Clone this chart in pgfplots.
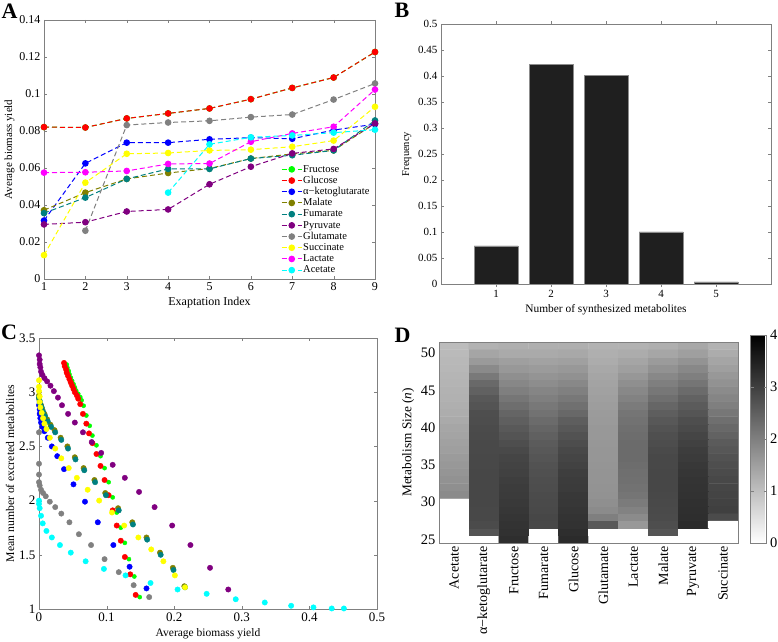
\documentclass[border=0pt]{standalone}
\usepackage{fontspec}
\setmainfont{Liberation Serif}
\usepackage{pgfplots}
\pgfplotsset{compat=1.18}
\definecolor{cFru}{rgb}{0,1,0}
\definecolor{cGlc}{rgb}{1,0,0}
\definecolor{cAkg}{rgb}{0,0,1}
\definecolor{cMal}{rgb}{0.5,0.5,0}
\definecolor{cFum}{rgb}{0,0.5,0.5}
\definecolor{cPyr}{rgb}{0.5,0,0.5}
\definecolor{cGlu}{rgb}{0.5,0.5,0.5}
\definecolor{cSuc}{rgb}{1,1,0}
\definecolor{cLac}{rgb}{1,0,1}
\definecolor{cAce}{rgb}{0,1,1}
\pgfplotsset{
  mstyle/.style={scale only axis, anchor=south west,
    axis line style={draw=black!50}, tick align=inside, major tick length=3pt,
    tick style={draw=black!50},
    ticklabel style={font=\fontsize{12}{12}\selectfont},
    /pgf/number format/assume math mode=true, scaled ticks=false,
    /pgf/number format/fixed, /pgf/number format/precision=2},
  aline/.style={#1, dash pattern=on 5pt off 3pt, line width=1pt, mark=*, mark size=2.8pt, mark options={solid, fill=#1, draw=#1}},
  cdot/.style={only marks, mark=*, mark size=2.7pt, color=#1, mark options={fill=#1, draw=#1}},
}
\begin{document}
\begin{tikzpicture}
\path[use as bounding box] (0,0) rectangle (778pt,641pt);
% ---------- Panel A ----------
\begin{axis}[mstyle, at={(44pt,362pt)}, width=331pt, height=259pt,
  xmin=1, xmax=9, ymin=0, ymax=0.14,
  xtick={1,2,3,4,5,6,7,8,9}, ytick={0,0.02,0.04,0.06,0.08,0.1,0.12,0.14},
  xlabel={Exaptation Index}, ylabel={Average biomass yield},
  xlabel style={font=\fontsize{12}{12}\selectfont},
  ylabel style={font=\fontsize{11}{11}\selectfont}, ylabel shift=-2pt,
  legend style={at={(0.995,0.004)}, anchor=south east, draw=none, fill=none,
    font=\fontsize{10.5}{10.5}\selectfont, row sep=0pt,
    nodes={inner sep=0.7pt, text height=7.6pt, text depth=2.2pt}},
  legend image code/.code={\draw[mark repeat=2,mark phase=2] plot coordinates {(0cm,0cm)(0.36cm,0cm)(0.72cm,0cm)};},
  legend cell align=left]
\addplot[aline=cFru] coordinates {(1,0.0821)(2,0.0819)(3,0.0868)(4,0.0895)(5,0.0922)(6,0.0972)(7,0.1033)(8,0.1089)(9,0.1227)};
\addlegendentry{Fructose}
\addplot[aline=cGlc] coordinates {(1,0.0821)(2,0.0819)(3,0.0868)(4,0.0895)(5,0.0922)(6,0.0972)(7,0.1033)(8,0.1089)(9,0.1227)};
\addlegendentry{Glucose}
\addplot[aline=cAkg] coordinates {(1,0.0316)(2,0.0625)(3,0.0737)(4,0.0737)(5,0.0755)(6,0.0764)(7,0.0758)(8,0.0805)(9,0.0837)};
\addlegendentry{α−ketoglutarate}
\addplot[aline=cMal] coordinates {(1,0.0372)(2,0.0467)(3,0.0541)(4,0.0573)(5,0.0597)(6,0.0651)(7,0.0676)(8,0.0695)(9,0.0841)};
\addlegendentry{Malate}
\addplot[aline=cFum] coordinates {(1,0.0356)(2,0.0440)(3,0.0541)(4,0.0595)(5,0.0595)(6,0.0651)(7,0.0669)(8,0.0695)(9,0.0857)};
\addlegendentry{Fumarate}
\addplot[aline=cPyr] coordinates {(1,0.0295)(2,0.0307)(3,0.0365)(4,0.0376)(5,0.0512)(6,0.0607)(7,0.0679)(8,0.0703)(9,0.0841)};
\addlegendentry{Pyruvate}
\addplot[aline=cGlu] coordinates {(2,0.0261)(3,0.0832)(4,0.0846)(5,0.0855)(6,0.0875)(7,0.0889)(8,0.0970)(9,0.1057)};
\addlegendentry{Glutamate}
\addplot[aline=cSuc] coordinates {(1,0.0129)(2,0.0521)(3,0.0677)(4,0.0681)(5,0.0695)(6,0.0699)(7,0.0715)(8,0.0748)(9,0.0931)};
\addlegendentry{Succinate}
\addplot[aline=cLac] coordinates {(1,0.0575)(2,0.0577)(3,0.0584)(4,0.0622)(5,0.0624)(6,0.0742)(7,0.0787)(8,0.0823)(9,0.1024)};
\addlegendentry{Lactate}
\addplot[aline=cAce] coordinates {(4,0.0467)(5,0.0728)(6,0.0766)(7,0.0776)(8,0.0791)(9,0.0807)};
\addlegendentry{Acetate}
\end{axis}
% ---------- Panel B ----------
\begin{axis}[mstyle, at={(441pt,357pt)}, width=330pt, height=260pt,
  xmin=0, xmax=6, ymin=0, ymax=0.5,
  xtick={1,2,3,4,5}, ytick={0,0.05,0.1,0.15,0.2,0.25,0.3,0.35,0.4,0.45,0.5},
  ticklabel style={font=\fontsize{11}{11}\selectfont},
  ybar, bar width=0.8,
  xlabel={Number of synthesized metabolites}, ylabel={Frequency},
  xlabel style={font=\fontsize{11.4}{11.4}\selectfont},
  ylabel style={font=\fontsize{10.5}{10.5}\selectfont}]
\addplot[fill=black!88, draw=black!45] coordinates {(1,0.0732)(2,0.4223)(3,0.4012)(4,0.1001)(5,0.0039)};
\end{axis}
% ---------- Panel C ----------
\begin{axis}[mstyle, at={(39pt,32pt)}, width=338pt, height=271pt,
  xmin=0, xmax=0.5, ymin=1, ymax=3.5, clip=false,
  xtick={0,0.1,0.2,0.3,0.4,0.5}, ytick={1,1.5,2,2.5,3,3.5},
  ticklabel style={font=\fontsize{13}{13}\selectfont},
  xlabel={Average biomass yield}, ylabel={Mean number of excreted metabolites},
  xlabel style={font=\fontsize{11.5}{11.5}\selectfont},
  ylabel style={font=\fontsize{11.7}{11.7}\selectfont}, ylabel shift=-2pt]
\addplot[cdot=cFru, mark size=2.1pt] coordinates {(0.041,3.255)(0.042,3.225)(0.044,3.195)(0.045,3.165)(0.047,3.135)(0.049,3.105)(0.051,3.075)(0.053,3.045)(0.055,3.015)(0.058,2.985)(0.061,2.955)(0.063,2.925)(0.066,2.875)(0.070,2.785)(0.075,2.69)(0.079,2.60)(0.085,2.51)(0.091,2.41)(0.097,2.30)(0.103,2.17)(0.109,2.03)(0.115,1.89)(0.121,1.75)(0.127,1.61)(0.133,1.46)(0.141,1.30)(0.149,1.11)};
\addplot[cdot=cGlc] coordinates {(0.037,3.27)(0.038,3.24)(0.040,3.21)(0.041,3.18)(0.043,3.15)(0.045,3.12)(0.047,3.09)(0.049,3.06)(0.051,3.03)(0.053,3.00)(0.056,2.97)(0.058,2.94)(0.061,2.89)(0.065,2.80)(0.070,2.71)(0.074,2.62)(0.079,2.53)(0.085,2.43)(0.091,2.32)(0.097,2.19)(0.103,2.05)(0.109,1.91)(0.115,1.77)(0.121,1.63)(0.127,1.48)(0.135,1.32)(0.143,1.13)};
\addplot[cdot=cAkg] coordinates {(0.000,2.88)(0.001,2.84)(0.001,2.80)(0.002,2.76)(0.003,2.72)(0.005,2.68)(0.008,2.64)(0.013,2.58)(0.019,2.50)(0.027,2.41)(0.037,2.29)(0.051,2.15)(0.068,1.99)(0.087,1.80)(0.110,1.59)(0.134,1.39)(0.159,1.19)};
\addplot[cdot=cMal] coordinates {(0.000,2.97)(0.000,2.94)(0.001,2.91)(0.003,2.88)(0.005,2.84)(0.008,2.80)(0.012,2.75)(0.017,2.70)(0.023,2.65)(0.032,2.58)(0.042,2.50)(0.053,2.40)(0.066,2.30)(0.082,2.19)(0.098,2.07)(0.117,1.93)(0.138,1.80)(0.159,1.66)(0.179,1.52)(0.198,1.38)(0.215,1.21)};
\addplot[cdot=cFum] coordinates {(0.000,2.95)(0.001,2.92)(0.002,2.89)(0.004,2.86)(0.006,2.82)(0.009,2.78)(0.013,2.73)(0.018,2.68)(0.024,2.63)(0.033,2.56)(0.043,2.48)(0.054,2.38)(0.067,2.28)(0.083,2.17)(0.099,2.05)(0.118,1.91)(0.139,1.78)(0.160,1.64)(0.180,1.50)(0.199,1.36)(0.216,1.20)};
\addplot[cdot=cPyr] coordinates {(0.000,3.34)(0.001,3.30)(0.001,3.26)(0.002,3.23)(0.003,3.19)(0.005,3.16)(0.008,3.13)(0.012,3.10)(0.017,3.06)(0.022,3.01)(0.028,2.95)(0.034,2.88)(0.043,2.80)(0.053,2.72)(0.065,2.63)(0.078,2.54)(0.092,2.44)(0.109,2.33)(0.127,2.21)(0.148,2.08)(0.171,1.94)(0.197,1.77)(0.224,1.59)(0.253,1.38)(0.280,1.18)};
\addplot[cdot=cGlu] coordinates {(0.000,2.63)(0.000,2.34)(0.000,2.24)(0.000,2.17)(0.001,2.14)(0.003,2.10)(0.006,2.07)(0.010,2.04)(0.016,1.99)(0.024,1.94)(0.033,1.88)(0.045,1.80)(0.059,1.69)(0.077,1.59)(0.097,1.46)(0.118,1.34)(0.140,1.22)(0.163,1.11)};
\addplot[cdot=cSuc] coordinates {(0.000,3.11)(0.000,3.05)(0.000,3.01)(0.001,2.96)(0.001,2.91)(0.002,2.86)(0.004,2.81)(0.006,2.76)(0.008,2.71)(0.011,2.66)(0.016,2.58)(0.024,2.48)(0.033,2.39)(0.044,2.30)(0.056,2.21)(0.072,2.10)(0.089,2.00)(0.108,1.89)(0.126,1.77)(0.147,1.66)(0.166,1.55)(0.184,1.44)(0.201,1.31)(0.216,1.20)};
\addplot[cdot=cAce] coordinates {(0.000,2.00)(0.000,1.97)(0.001,1.93)(0.003,1.86)(0.0055,1.79)(0.011,1.72)(0.019,1.66)(0.031,1.59)(0.047,1.52)(0.069,1.44)(0.096,1.37)(0.128,1.31)(0.165,1.24)(0.205,1.18)(0.248,1.14)(0.291,1.09)(0.334,1.06)(0.373,1.03)(0.406,1.015)(0.433,1.005)(0.451,1.005)};
\end{axis}
% ---------- Panel D ----------
\begin{axis}[mstyle, at={(439pt,98pt)}, width=299pt, height=201pt,
  xmin=-0.5, xmax=9.5, ymin=24.5, ymax=51.5, axis on top,
  xtick={0,1,2,3,4,5,6,7,8,9}, ytick={25,30,35,40,45,50},
  xticklabels={Acetate,α−ketoglutarate,Fructose,Fumarate,Glucose,Glutamate,Lactate,Malate,Pyruvate,Succinate},
  xticklabel style={rotate=90, anchor=east, font=\fontsize{14}{14}\selectfont},
  yticklabel style={font=\fontsize{14.5}{14.5}\selectfont},
  major tick length=0pt,
  ylabel={Metabolism Size (\textit{n})}, ylabel style={font=\fontsize{13.3}{13.3}\selectfont},
  colormap={wb}{gray(0cm)=(1); gray(1cm)=(0)},
  point meta min=0, point meta max=4,
  colorbar,
  colorbar style={at={(parent axis.north east)}, anchor=north west, xshift=4pt, yshift=7pt,
    scale only axis, width=16pt, height=208pt, ytick={0,1,2,3,4},
    axis line style={draw=black!50}, tick align=inside, major tick length=3pt, tick style={draw=black!50},
    yticklabel style={font=\fontsize{14.5}{14.5}\selectfont},
    /pgf/number format/assume math mode=true}]
\addplot[matrix plot*, mesh/cols=10, point meta=explicit] coordinates {
(0,25) [0] (1,25) [0] (2,25) [3.25] (3,25) [0] (4,25) [3.3] (5,25) [0] (6,25) [0] (7,25) [0] (8,25) [0] (9,25) [0]
(0,26) [0] (1,26) [2.67] (2,26) [3.21] (3,26) [0] (4,26) [3.25] (5,26) [0] (6,26) [0] (7,26) [2.65] (8,26) [0] (9,26) [0]
(0,27) [0] (1,27) [2.8] (2,27) [3.18] (3,27) [2.85] (4,27) [3.2] (5,27) [2.6] (6,27) [1.6] (7,27) [2.75] (8,27) [3.3] (9,27) [0]
(0,28) [0] (1,28) [2.85] (2,28) [3.15] (3,28) [2.86] (4,28) [3.18] (5,28) [2.0] (6,28) [1.8] (7,28) [2.8] (8,28) [3.26] (9,28) [2.8]
(0,29) [0] (1,29) [2.85] (2,29) [3.12] (3,29) [2.84] (4,29) [3.15] (5,29) [1.8] (6,29) [1.95] (7,29) [2.82] (8,29) [3.24] (9,29) [2.98]
(0,30) [0] (1,30) [2.86] (2,30) [3.09] (3,30) [2.82] (4,30) [3.12] (5,30) [1.75] (6,30) [2.05] (7,30) [2.84] (8,30) [3.22] (9,30) [2.95]
(0,31) [1.8] (1,31) [2.86] (2,31) [3.06] (3,31) [2.8] (4,31) [3.1] (5,31) [1.7] (6,31) [2.15] (7,31) [2.85] (8,31) [3.2] (9,31) [2.92]
(0,32) [1.75] (1,32) [2.86] (2,32) [3.03] (3,32) [2.78] (4,32) [3.06] (5,32) [1.68] (6,32) [2.2] (7,32) [2.86] (8,32) [3.18] (9,32) [2.88]
(0,33) [1.7] (1,33) [2.86] (2,33) [3.0] (3,33) [2.75] (4,33) [3.03] (5,33) [1.67] (6,33) [2.22] (7,33) [2.86] (8,33) [3.16] (9,33) [2.85]
(0,34) [1.65] (1,34) [2.86] (2,34) [2.96] (3,34) [2.72] (4,34) [3.0] (5,34) [1.66] (6,34) [2.25] (7,34) [2.86] (8,34) [3.13] (9,34) [2.8]
(0,35) [1.6] (1,35) [2.85] (2,35) [2.93] (3,35) [2.7] (4,35) [2.95] (5,35) [1.65] (6,35) [2.28] (7,35) [2.85] (8,35) [3.1] (9,35) [2.75]
(0,36) [1.55] (1,36) [2.85] (2,36) [2.9] (3,36) [2.65] (4,36) [2.9] (5,36) [1.64] (6,36) [2.3] (7,36) [2.85] (8,36) [3.06] (9,36) [2.7]
(0,37) [1.5] (1,37) [2.84] (2,37) [2.84] (3,37) [2.6] (4,37) [2.85] (5,37) [1.63] (6,37) [2.3] (7,37) [2.82] (8,37) [3.02] (9,37) [2.62]
(0,38) [1.46] (1,38) [2.83] (2,38) [2.75] (3,38) [2.55] (4,38) [2.78] (5,38) [1.62] (6,38) [2.3] (7,38) [2.78] (8,38) [2.96] (9,38) [2.55]
(0,39) [1.42] (1,39) [2.82] (2,39) [2.67] (3,39) [2.47] (4,39) [2.7] (5,39) [1.6] (6,39) [2.28] (7,39) [2.74] (8,39) [2.9] (9,39) [2.45]
(0,40) [1.38] (1,40) [2.8] (2,40) [2.59] (3,40) [2.4] (4,40) [2.6] (5,40) [1.6] (6,40) [2.25] (7,40) [2.68] (8,40) [2.82] (9,40) [2.35]
(0,41) [1.32] (1,41) [2.78] (2,41) [2.49] (3,41) [2.3] (4,41) [2.5] (5,41) [1.57] (6,41) [2.2] (7,41) [2.6] (8,41) [2.75] (9,41) [2.25]
(0,42) [1.28] (1,42) [2.75] (2,42) [2.4] (3,42) [2.2] (4,42) [2.35] (5,42) [1.55] (6,42) [2.15] (7,42) [2.5] (8,42) [2.65] (9,42) [2.12]
(0,43) [1.25] (1,43) [2.67] (2,43) [2.26] (3,43) [2.1] (4,43) [2.22] (5,43) [1.52] (6,43) [2.05] (7,43) [2.38] (8,43) [2.55] (9,43) [2.0]
(0,44) [1.22] (1,44) [2.6] (2,44) [2.13] (3,44) [2.0] (4,44) [2.1] (5,44) [1.5] (6,44) [1.95] (7,44) [2.25] (8,44) [2.45] (9,44) [1.9]
(0,45) [1.2] (1,45) [2.46] (2,45) [2.0] (3,45) [1.9] (4,45) [1.98] (5,45) [1.46] (6,45) [1.85] (7,45) [2.12] (8,45) [2.3] (9,45) [1.8]
(0,46) [1.17] (1,46) [2.33] (2,46) [1.87] (3,46) [1.78] (4,46) [1.85] (5,46) [1.43] (6,46) [1.75] (7,46) [2.0] (8,46) [2.15] (9,46) [1.7]
(0,47) [1.15] (1,47) [2.08] (2,47) [1.74] (3,47) [1.67] (4,47) [1.72] (5,47) [1.4] (6,47) [1.62] (7,47) [1.85] (8,47) [2.0] (9,47) [1.6]
(0,48) [1.12] (1,48) [1.83] (2,48) [1.6] (3,48) [1.55] (4,48) [1.6] (5,48) [1.35] (6,48) [1.5] (7,48) [1.7] (8,48) [1.85] (9,48) [1.5]
(0,49) [1.1] (1,49) [1.58] (2,49) [1.49] (3,49) [1.45] (4,49) [1.48] (5,49) [1.3] (6,49) [1.4] (7,49) [1.55] (8,49) [1.68] (9,49) [1.4]
(0,50) [1.08] (1,50) [1.4] (2,50) [1.33] (3,50) [1.33] (4,50) [1.35] (5,50) [1.25] (6,50) [1.3] (7,50) [1.38] (8,50) [1.5] (9,50) [1.3]
(0,51) [1.05] (1,51) [1.2] (2,51) [1.24] (3,51) [1.24] (4,51) [1.24] (5,51) [1.2] (6,51) [1.2] (7,51) [1.24] (8,51) [1.35] (9,51) [1.2]
};
\end{axis}
% ---------- Panel letters ----------
\node[inner sep=0pt, font=\fontsize{22}{22}\bfseries] at (9.5pt,630pt) {A};
\node[inner sep=0pt, font=\fontsize{22}{22}\bfseries] at (402pt,631pt) {B};
\node[inner sep=0pt, font=\fontsize{22}{22}\bfseries] at (9pt,309pt) {C};
\node[inner sep=0pt, font=\fontsize{22}{22}\bfseries] at (402.5pt,305.5pt) {D};
\end{tikzpicture}
\end{document}
